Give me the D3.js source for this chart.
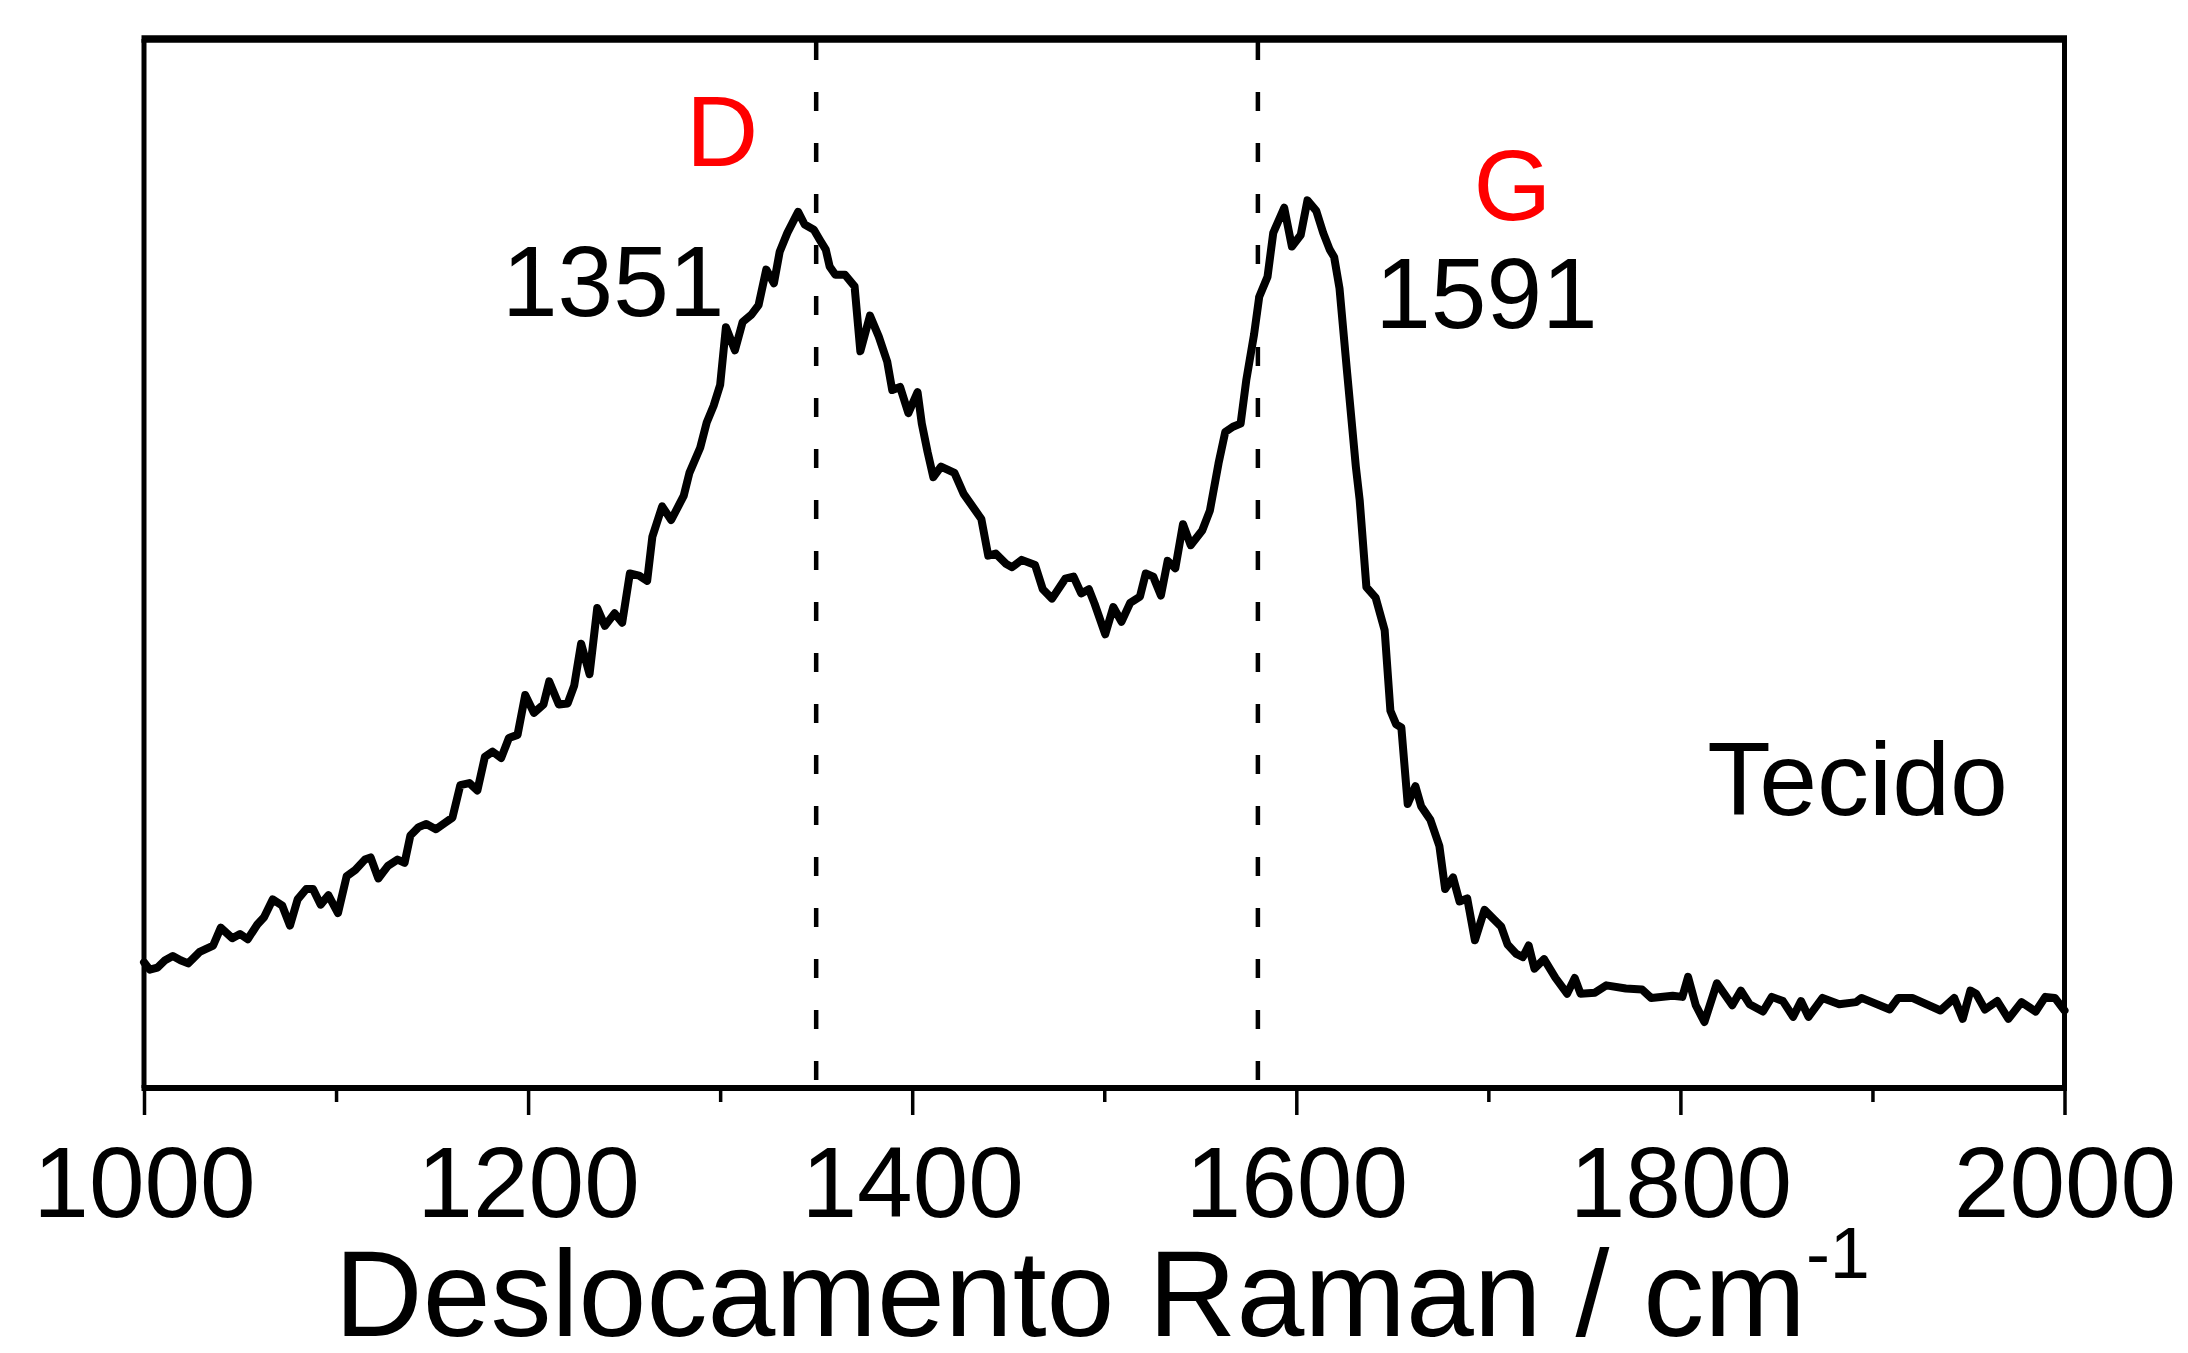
<!DOCTYPE html>
<html>
<head>
<meta charset="utf-8">
<script src="https://cdn.jsdelivr.net/npm/d3@7"></script>
<style>
	body { margin: 0; background: #ffffff; }
	text { font-family: "Liberation Sans", Arial, sans-serif; }
</style>
</head>
<body>
<div id="container"></div>
<script>

// Raman shift (cm-1) of the spectrum points
var shift = [
	1000, 1003, 1007, 1011, 1015, 1019, 1023, 1029, 1036, 1040, 1046, 1050, 1054, 1059, 1062.5, 1067, 1072, 1076, 1080, 1084.5,
	1088, 1092, 1096, 1101, 1105.5, 1110, 1115, 1118, 1122, 1127, 1132, 1135.7, 1138.7, 1143, 1147, 1152, 1156.6, 1160.6, 1164.7, 1169.4,
	1173.6, 1177.5, 1181.5, 1186, 1190, 1194.5, 1198.5, 1203, 1208, 1211, 1216, 1220.6, 1224, 1227.6, 1232, 1236, 1240, 1245, 1249, 1253,
	1257.8, 1262, 1264.7, 1269.8, 1274.5, 1281, 1284, 1289.6, 1293, 1296.6, 1300, 1303, 1307.7, 1311.7, 1316.3, 1320, 1324, 1328, 1331, 1335,
	1340.6, 1344, 1348.8, 1352, 1355, 1357, 1360, 1365, 1370, 1373, 1378, 1382.6, 1387, 1389.6, 1393.7, 1398, 1402.8, 1405, 1408, 1411,
	1415, 1422, 1426.8, 1436, 1439.6, 1443.5, 1449, 1452, 1457, 1464, 1468, 1472.8, 1479.7, 1484, 1488, 1492, 1495, 1500.5, 1504.7, 1509,
	1513.5, 1518.6, 1521.6, 1525.5, 1529.5, 1533, 1537, 1541, 1545, 1551, 1555, 1559.5, 1563, 1567, 1571, 1574, 1578, 1580.7, 1585, 1588,
	1593.7, 1597.7, 1602.3, 1605.8, 1610.4, 1614, 1617.4, 1619.7, 1622.5, 1626.5, 1631, 1633, 1636.5, 1641.3, 1646, 1649, 1652, 1654.7, 1658, 1662,
	1665, 1669.8, 1674.5, 1677.5, 1681.6, 1685, 1689, 1693, 1698, 1702.9, 1706.7, 1710, 1714.6, 1718, 1721, 1724, 1729, 1735, 1741, 1745,
	1748, 1755.5, 1761.4, 1771.6, 1780, 1784.8, 1796, 1801, 1804, 1808, 1812.5, 1819, 1827, 1831.5, 1836, 1843, 1847.6, 1853.4, 1858.7, 1862.8,
	1866.7, 1874, 1882.7, 1891.5, 1894.3, 1909, 1913.4, 1920.7, 1935.4, 1942.6, 1947, 1951, 1954, 1958.6, 1965, 1970.8, 1977.6, 1985, 1990, 1995,
	2000
];

// intensity (arbitrary units) at each shift
var intensity = [
	11.9, 11.2, 11.4, 12.1, 12.5, 12.1, 11.8, 12.9, 13.5, 15.2, 14.2, 14.6, 14.1, 15.5, 16.2, 17.9, 17.3, 15.4, 17.9, 18.9,
	18.9, 17.4, 18.3, 16.6, 20.1, 20.7, 21.7, 21.9, 19.9, 21.1, 21.7, 21.4, 24.0, 24.8, 25.1, 24.6, 25.2, 25.7, 28.8, 29.0,
	28.3, 31.5, 32.0, 31.4, 33.3, 33.6, 37.4, 35.7, 36.5, 38.7, 36.5, 36.6, 38.3, 42.3, 39.4, 45.7, 44.0, 45.2, 44.3, 49.0,
	48.8, 48.3, 52.5, 55.4, 54.1, 56.4, 58.6, 61.0, 63.4, 65.0, 67.0, 72.5, 70.3, 73.0, 73.7, 74.6, 78.0, 76.7, 79.7, 81.5,
	83.5, 82.3, 81.8, 80.8, 79.9, 78.3, 77.5, 77.5, 76.4, 70.2, 73.6, 71.6, 69.2, 66.5, 66.8, 64.3, 66.3, 63.3, 60.6, 58.2,
	59.2, 58.6, 56.6, 54.2, 50.7, 50.9, 49.9, 49.6, 50.3, 49.8, 47.5, 46.6, 48.5, 48.7, 47.1, 47.5, 46.1, 43.2, 45.8, 44.4,
	46.2, 46.8, 49.0, 48.7, 46.9, 50.2, 49.5, 53.7, 51.7, 53.1, 55.0, 59.5, 62.5, 63.0, 63.3, 67.5, 71.8, 75.4, 77.3, 81.5,
	83.9, 80.2, 81.3, 84.6, 83.6, 81.5, 79.9, 79.2, 76.2, 68.1, 59.2, 56.0, 47.7, 46.7, 43.6, 35.9, 34.6, 34.3, 27.0, 28.7,
	26.8, 25.5, 23.0, 18.9, 20.0, 17.7, 18.0, 14.0, 16.9, 16.0, 15.3, 13.6, 12.7, 12.4, 13.5, 11.3, 12.2, 10.4, 8.9, 10.4,
	8.9, 9.0, 9.7, 9.4, 9.3, 8.5, 8.7, 8.6, 10.5, 7.8, 6.2, 9.9, 7.8, 9.2, 7.9, 7.2, 8.6, 8.2, 6.7, 8.2,
	6.7, 8.5, 7.9, 8.1, 8.5, 7.4, 8.5, 8.5, 7.3, 8.5, 6.5, 9.2, 8.9, 7.4, 8.2, 6.5, 8.1, 7.2, 8.6, 8.5,
	7.3
];

var majorTicks = [1000, 1200, 1400, 1600, 1800, 2000];
var minorTicks = [1100, 1300, 1500, 1700, 1900];

var bandLines = [1350, 1580]; // dashed markers of the D and G bands

// text notes, placed in data units
var notes = [
	{text: "D", x: 1301, y: 87.9, color: "#ff0000", anchor: "middle", size: 100},
	{text: "G", x: 1712.5, y: 82.7, color: "#ff0000", anchor: "middle", size: 100},
	{text: "1351", x: 1244.3, y: 73.6, color: "#000000", anchor: "middle", size: 100},
	{text: "1591", x: 1699, y: 72.4, color: "#000000", anchor: "middle", size: 100},
	{text: "Tecido", x: 1814, y: 26, color: "#000000", anchor: "start", size: 104}
];

function draw_chart()
{// builds the whole figure

	var width = 2188, height = 1353;
	var left = 144, right = 2064.5, top = 39, bottom = 1088;

	var svg = d3.select("#container")
		.append("svg")
		.attr("width", width)
		.attr("height", height);

	var x = d3.scaleLinear().domain([1000, 2000]).range([left, right]);
	var y = d3.scaleLinear().domain([0, 100]).range([1087, top]);

	// frame: top, left and right sides (bottom is the axis)
	svg.append("line")
		.attr("x1", left - 2.5).attr("x2", right + 2.5)
		.attr("y1", top).attr("y2", top)
		.attr("stroke", "#000").attr("stroke-width", 7.5);
	svg.append("line")
		.attr("x1", left).attr("x2", left)
		.attr("y1", top).attr("y2", bottom)
		.attr("stroke", "#000").attr("stroke-width", 5);
	svg.append("line")
		.attr("x1", right).attr("x2", right)
		.attr("y1", top).attr("y2", bottom)
		.attr("stroke", "#000").attr("stroke-width", 5);

	// dashed band markers
	svg.selectAll("line.band")
		.data(bandLines)
		.enter()
		.append("line")
			.attr("class", "band")
			.attr("x1", (d) => x(d)).attr("x2", (d) => x(d))
			.attr("y1", top + 2).attr("y2", bottom)
			.attr("stroke", "#000")
			.attr("stroke-width", 4.5)
			.attr("stroke-dasharray", "19,32");

	// minor ticks, no labels
	var minorAxis = d3.axisBottom(x)
		.tickValues(minorTicks)
		.tickSize(14)
		.tickSizeOuter(0)
		.tickFormat("");
	svg.append("g")
		.attr("transform", "translate(0," + bottom + ")")
		.call(minorAxis)
		.call((g) => g.select(".domain").remove())
		.selectAll("line").attr("stroke", "#000").attr("stroke-width", 3.5);

	// major ticks with labels
	var majorAxis = d3.axisBottom(x)
		.tickValues(majorTicks)
		.tickSize(27)
		.tickSizeOuter(0)
		.tickFormat(d3.format("d"));
	var gx = svg.append("g")
		.attr("transform", "translate(0," + bottom + ")")
		.call(majorAxis);
	gx.select(".domain")
		.attr("stroke", "#000")
		.attr("stroke-width", 6)
		.attr("d", "M" + (left - 2.5) + ",0H" + (right + 2.5));
	gx.selectAll(".tick line").attr("stroke", "#000").attr("stroke-width", 3.5);
	gx.selectAll(".tick text")
		.attr("y", 129)
		.attr("dy", 0)
		.attr("fill", "#000")
		.style("font-family", "'Liberation Sans', Arial, sans-serif")
		.style("font-size", "100px");

	// axis title with superscript
	var title = svg.append("text")
		.attr("x", (left + right) / 2 - 2)
		.attr("y", 1336)
		.attr("text-anchor", "middle")
		.style("font-size", "122px")
		.attr("fill", "#000");
	title.append("tspan").text("Deslocamento Raman / cm");
	title.append("tspan")
		.attr("dy", -58)
		.style("font-size", "72px")
		.text("-1");

	// the spectrum
	var points = shift.map((s, i) => [s, intensity[i]]);
	var line = d3.line()
		.x((d) => x(d[0]))
		.y((d) => y(d[1]));
	svg.append("path")
		.datum(points)
		.attr("d", line)
		.attr("fill", "none")
		.attr("stroke", "#000")
		.attr("stroke-width", 8)
		.attr("stroke-linejoin", "round")
		.attr("stroke-linecap", "round");

	// band labels and sample name
	svg.selectAll("text.note")
		.data(notes)
		.enter()
		.append("text")
			.attr("class", "note")
			.attr("x", (d) => x(d.x))
			.attr("y", (d) => y(d.y))
			.attr("text-anchor", (d) => d.anchor)
			.attr("fill", (d) => d.color)
			.style("font-size", (d) => d.size + "px")
			.text((d) => d.text);

}// End draw_chart

draw_chart();
</script>
</body>
</html>
